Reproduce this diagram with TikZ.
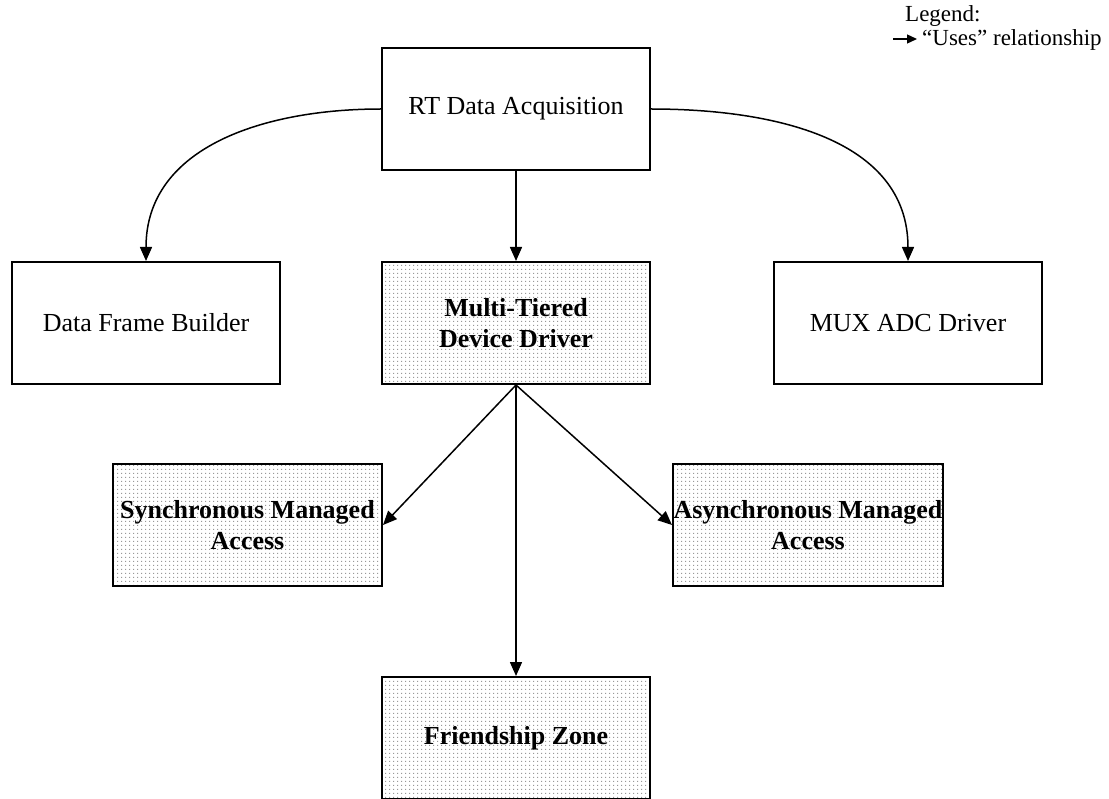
\documentclass[tikz,border=0pt]{standalone}
\usepackage{fontspec}
\setmainfont{Liberation Serif}
\usetikzlibrary{arrows.meta,patterns.meta}

% fine grey dot screen used for the shaded modules
\tikzdeclarepattern{
  name=gdots,
  type=uncolored,
  bottom left={(0pt,0pt)},
  top right={(4pt,4pt)},
  tile size={(4pt,4pt)},
  code={\pgfpathrectangle{\pgfpoint{1.5pt}{1.5pt}}{\pgfpoint{1.2pt}{1.2pt}}\pgfusepath{fill}}
}

\tikzset{
  module/.style={draw=black, line width=2pt, rectangle, anchor=north west,
    minimum width=268pt, minimum height=122pt, inner sep=0pt, align=center,
    font=\fontsize{26}{31}\selectfont},
  shaded/.style={module, pattern={gdots}, pattern color=black!40,
    font=\fontsize{26}{31}\selectfont\bfseries},
  uses/.style={line width=1.5pt, -{Triangle[length=14pt,width=12pt]}},
  legendtext/.style={anchor=base west, inner sep=0pt, font=\fontsize{23}{27}\selectfont},
}

\begin{document}
\begin{tikzpicture}[x=1pt,y=-1pt]
  \useasboundingbox[fill=white] (0,0) rectangle (1109,799);

  % modules
  \node[module] (rt)   at (381,47)  {RT Data Acquisition};
  \node[module] (dfb)  at (11,261)  {Data Frame Builder};
  \node[shaded] (mt)   at (381,261) {Multi-Tiered\\Device Driver};
  \node[module] (mux)  at (773,261) {MUX ADC Driver};
  \node[shaded, minimum width=269pt] (sync)  at (112,463) {Synchronous Managed\\Access};
  \node[shaded, minimum width=270pt] (async) at (672,463) {Asynchronous Managed\\Access};
  \node[shaded] (fz)   at (381,676) {Friendship Zone};

  % "uses" relationships
  \draw[uses] (rt.west) to[out=180,in=90,looseness=1.05] (dfb.north);
  \draw[uses] (rt.east) to[out=0,in=90,looseness=1.05] (mux.north);
  \draw[uses] (rt.south) -- (mt.north);
  \draw[uses] (mt.south) -- (sync.east);
  \draw[uses] (mt.south) -- (async.west);
  \draw[uses] (mt.south) -- (fz.north);

  % legend
  \node[legendtext] (lgd) at (905,22) {Legend:};
  \node[legendtext] (lusage) at (922,46) {“Uses” relationship};
  \coordinate (la) at (893,39);
  \coordinate (lb) at (917,39);
  \draw[line width=1.3pt, -{Triangle[length=10pt,width=9pt]}] (la) -- (lb);
\end{tikzpicture}
\end{document}
